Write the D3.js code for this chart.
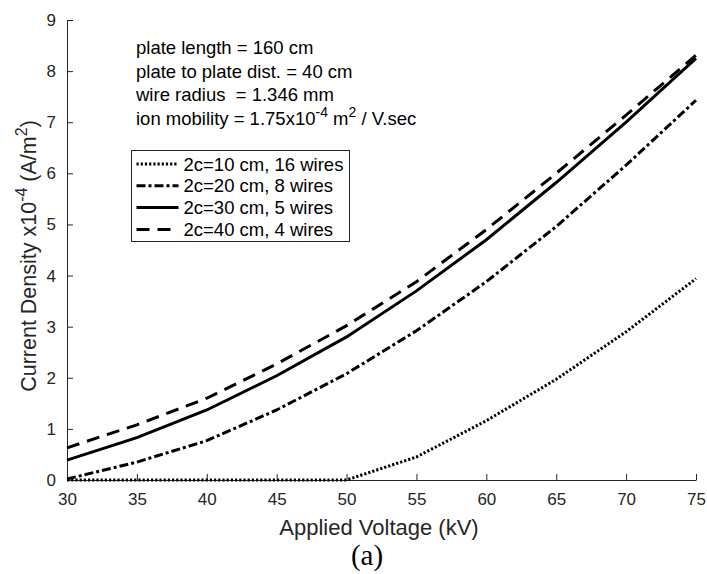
<!DOCTYPE html>
<html>
<head>
<meta charset="utf-8">
<script src="https://cdn.jsdelivr.net/npm/d3@7"></script>
<style>
  body { margin: 0; background: #fff; }
  text { font-family: "Liberation Sans", Arial, sans-serif; }
</style>
</head>
<body>
<svg id="chart"></svg>
<script>
// data
const voltage = [30, 35, 40, 45, 50, 55, 60, 65, 70, 75];
const wires16 = [0, 0, 0, 0, 0, 0.45, 1.16, 1.97, 2.9, 3.94];
const wires8 = [0.02, 0.35, 0.77, 1.37, 2.08, 2.92, 3.88, 4.96, 6.16, 7.43];
const wires5 = [0.39, 0.83, 1.37, 2.04, 2.8, 3.7, 4.7, 5.82, 7.0, 8.25];
const wires4 = [0.63, 1.08, 1.6, 2.27, 3.02, 3.88, 4.9, 6.0, 7.14, 8.31];
const xTicks = [30, 35, 40, 45, 50, 55, 60, 65, 70, 75];
const yTicks = [0, 1, 2, 3, 4, 5, 6, 7, 8, 9];

const seriesNames = ["2c=10 cm, 16 wires", "2c=20 cm, 8 wires", "2c=30 cm, 5 wires", "2c=40 cm, 4 wires"];
const seriesDash = ["2.2,2", "9,3,3,3", null, "13,8"];
const seriesVals = [wires16, wires8, wires5, wires4];

const notes = ["plate length = 160 cm", "plate to plate dist. = 40 cm", "wire radius  = 1.346 mm"];

const W = 707, H = 574;
const margin = {top: 20, right: 11, bottom: 94, left: 67};
const width = W - margin.left - margin.right;
const height = H - margin.top - margin.bottom;

const svg = d3.select('#chart').attr('width', W).attr('height', H);
const chart = svg.append('g').attr('transform', `translate(${margin.left},${margin.top})`);

const xScale = d3.scaleLinear().domain([30, 75]).range([0, width]);
const yScale = d3.scaleLinear().domain([0, 9]).range([height, 0]);

// axes, MATLAB style inward ticks
const xAxis = d3.axisBottom(xScale).tickValues(xTicks).tickSizeInner(-6).tickSizeOuter(0).tickPadding(13);
const yAxis = d3.axisLeft(yScale).tickValues(yTicks).tickSizeInner(-6).tickSizeOuter(0).tickPadding(11);

const xAxisG = chart.append('g').attr('transform', `translate(0,${height})`).call(xAxis);
const yAxisG = chart.append('g').call(yAxis);
[xAxisG, yAxisG].forEach(g => {
  g.selectAll('text').attr('font-size', 17).attr('fill', '#262626');
  g.selectAll('line').attr('stroke', '#262626');
  g.select('.domain').attr('stroke', '#262626');
});

// lines
const line = d3.line()
  .x((d, i) => xScale(voltage[i]))
  .y(d => yScale(d));

seriesVals.forEach((vals, k) => {
  chart.append('path')
    .datum(vals)
    .attr('fill', 'none')
    .attr('stroke', '#000')
    .attr('stroke-width', 3)
    .attr('stroke-dasharray', seriesDash[k])
    .attr('d', line);
});

// annotation
notes.forEach((t, i) => {
  svg.append('text').attr('x', 136).attr('y', 54 + i * 23.7)
    .attr('font-size', 18.5).style('white-space', 'pre').text(t);
});
const mob = svg.append('text').attr('x', 136).attr('y', 125).attr('font-size', 18.5);
mob.append('tspan').text('ion mobility  = 1.75x10');
mob.append('tspan').attr('dy', -8).attr('font-size', 14).text('-4');
mob.append('tspan').attr('dy', 8).text(' m');
mob.append('tspan').attr('dy', -8).attr('font-size', 14).text('2');
mob.append('tspan').attr('dy', 8).text(' / V.sec');

// legend
const leg = svg.append('g').attr('transform', 'translate(131.5,150.5)');
leg.append('rect').attr('width', 218).attr('height', 91)
  .attr('fill', '#fff').attr('stroke', '#262626').attr('stroke-width', 1);
seriesNames.forEach((name, k) => {
  const y = 13.5 + k * 21.8;
  leg.append('line').attr('x1', 5).attr('x2', 47).attr('y1', y).attr('y2', y)
    .attr('stroke', '#000').attr('stroke-width', 3)
    .attr('stroke-dasharray', seriesDash[k]);
  leg.append('text').attr('x', 52).attr('y', y + 6.5).attr('font-size', 18.5).text(name);
});

// axis labels
svg.append('text').attr('x', 379).attr('y', 535)
  .attr('text-anchor', 'middle').attr('font-size', 22).attr('fill', '#262626')
  .text('Applied Voltage (kV)');

const yl = svg.append('text')
  .attr('transform', 'translate(36,256) rotate(-90)')
  .attr('text-anchor', 'middle').attr('font-size', 21.5).attr('fill', '#262626');
yl.append('tspan').text('Current Density x10');
yl.append('tspan').attr('dy', -9).attr('font-size', 16).text('-4');
yl.append('tspan').attr('dy', 9).text('  (A/m');
yl.append('tspan').attr('dy', -9).attr('font-size', 16).text('2');
yl.append('tspan').attr('dy', 9).text(')');

svg.append('text').attr('x', 367).attr('y', 565)
  .attr('text-anchor', 'middle').attr('font-size', 29)
  .style('font-family', '"Liberation Serif", "Times New Roman", serif')
  .text('(a)');
</script>
</body>
</html>
